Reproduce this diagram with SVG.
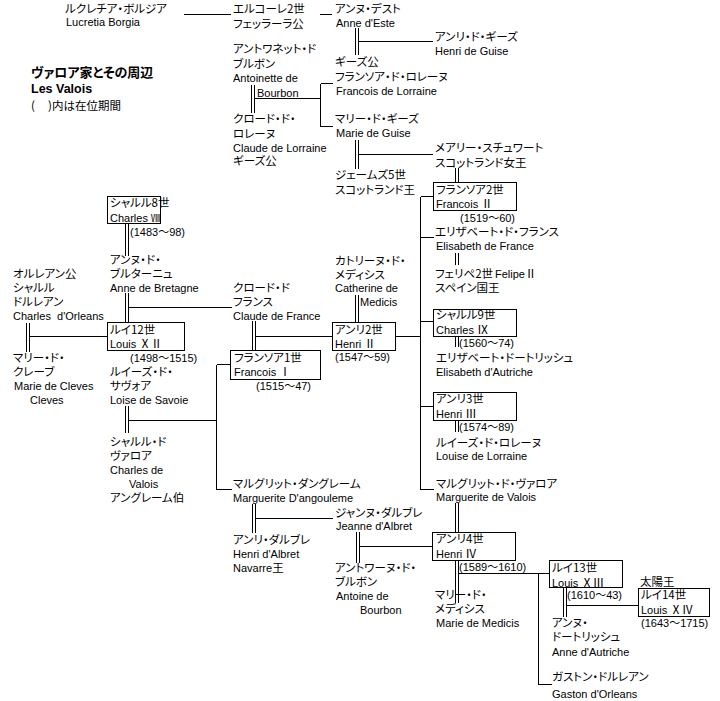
<svg xmlns="http://www.w3.org/2000/svg" width="720" height="701" viewBox="0 0 720 701">
<style>
.j{font-family:"Noto Sans CJK JP",sans-serif;font-size:11.5px;font-feature-settings:"palt";fill:#000}
.e{font-family:"Liberation Sans","Noto Sans CJK JP",sans-serif;font-size:11px;fill:#000}
.r{font-family:"Noto Sans CJK JP",sans-serif;font-size:11.5px}
.t{font-family:"Noto Sans CJK JP",sans-serif;font-size:13px;font-weight:bold;font-feature-settings:"palt"}
.tb{font-family:"Liberation Sans",sans-serif;font-size:12.5px;font-weight:bold}
.box{fill:#fff;stroke:#000;stroke-width:1}
.c line{stroke:#000;stroke-width:1}
</style>
<rect width="720" height="701" fill="#fff"/>
<g id="connectors" class="c" shape-rendering="crispEdges">
<line x1="184" y1="14.5" x2="231" y2="14.5"/>
<line x1="320" y1="14.5" x2="332" y2="14.5"/>
<line x1="355.5" y1="28" x2="355.5" y2="55"/><line x1="358.5" y1="28" x2="358.5" y2="55"/>
<line x1="358.5" y1="41.5" x2="433" y2="41.5"/>
<line x1="251.5" y1="85" x2="251.5" y2="113"/><line x1="254.5" y1="85" x2="254.5" y2="113"/>
<line x1="254.5" y1="98.5" x2="320.5" y2="98.5"/>
<line x1="320.5" y1="83.5" x2="320.5" y2="126.5"/>
<line x1="320.5" y1="83.5" x2="333" y2="83.5"/><line x1="320.5" y1="126.5" x2="333" y2="126.5"/>
<line x1="355.5" y1="140" x2="355.5" y2="169"/><line x1="358.5" y1="140" x2="358.5" y2="169"/>
<line x1="358.5" y1="154.5" x2="433" y2="154.5"/>
<line x1="455.5" y1="168" x2="455.5" y2="182.5"/><line x1="458.5" y1="168" x2="458.5" y2="182.5"/>
<line x1="420.5" y1="196.5" x2="420.5" y2="489.5"/>
<line x1="420.5" y1="196.5" x2="433.5" y2="196.5"/>
<line x1="420.5" y1="237.5" x2="433.5" y2="237.5"/>
<line x1="420.5" y1="321.5" x2="433.5" y2="321.5"/>
<line x1="420.5" y1="406.5" x2="433.5" y2="406.5"/>
<line x1="420.5" y1="489.5" x2="433.5" y2="489.5"/>
<line x1="395.5" y1="336.5" x2="420.5" y2="336.5"/>
<line x1="455.5" y1="253" x2="455.5" y2="265"/><line x1="458.5" y1="253" x2="458.5" y2="265"/>
<line x1="355.5" y1="295" x2="355.5" y2="322.5"/><line x1="358.5" y1="295" x2="358.5" y2="322.5"/>
<line x1="252.5" y1="321" x2="252.5" y2="350.5"/><line x1="255.5" y1="321" x2="255.5" y2="350.5"/>
<line x1="255.5" y1="336.5" x2="332.5" y2="336.5"/>
<line x1="216.5" y1="364.5" x2="216.5" y2="489.5"/>
<line x1="216.5" y1="364.5" x2="230.5" y2="364.5"/>
<line x1="216.5" y1="489.5" x2="232" y2="489.5"/>
<line x1="125.5" y1="406" x2="125.5" y2="433"/><line x1="128.5" y1="406" x2="128.5" y2="433"/>
<line x1="128.5" y1="420.5" x2="216.5" y2="420.5"/>
<line x1="125.5" y1="223.5" x2="125.5" y2="256"/><line x1="128.5" y1="223.5" x2="128.5" y2="256"/>
<line x1="125.5" y1="293" x2="125.5" y2="322.5"/><line x1="128.5" y1="293" x2="128.5" y2="322.5"/>
<line x1="128.5" y1="307.5" x2="232" y2="307.5"/>
<line x1="26.5" y1="322.5" x2="26.5" y2="351.5"/><line x1="29.5" y1="322.5" x2="29.5" y2="351.5"/>
<line x1="29.5" y1="336.5" x2="107.5" y2="336.5"/>
<line x1="455.5" y1="336.5" x2="455.5" y2="347"/><line x1="458.5" y1="336.5" x2="458.5" y2="347"/>
<line x1="455.5" y1="420.5" x2="455.5" y2="432"/><line x1="458.5" y1="420.5" x2="458.5" y2="432"/>
<line x1="455.5" y1="503" x2="455.5" y2="532.5"/><line x1="458.5" y1="503" x2="458.5" y2="532.5"/>
<line x1="455.5" y1="560.5" x2="455.5" y2="603"/><line x1="458.5" y1="560.5" x2="458.5" y2="603"/>
<line x1="458.5" y1="573.5" x2="538.5" y2="573.5"/>
<line x1="538.5" y1="573.5" x2="538.5" y2="684.5"/>
<line x1="538.5" y1="573.5" x2="549.5" y2="573.5"/>
<line x1="538.5" y1="684.5" x2="552" y2="684.5"/>
<line x1="563.5" y1="587.5" x2="563.5" y2="617"/><line x1="566.5" y1="587.5" x2="566.5" y2="617"/>
<line x1="566.5" y1="605.5" x2="638.5" y2="605.5"/>
<line x1="252.5" y1="504" x2="252.5" y2="532.5"/><line x1="255.5" y1="504" x2="255.5" y2="532.5"/>
<line x1="255.5" y1="518.5" x2="333" y2="518.5"/>
<line x1="356.5" y1="532" x2="356.5" y2="563"/><line x1="359.5" y1="532" x2="359.5" y2="563"/>
<line x1="359.5" y1="546.5" x2="432.5" y2="546.5"/>
</g>
<g id="title">
<text class="t" x="31" y="77">ヴァロア家とその周辺</text>
<text class="tb" x="31" y="92.7">Les Valois</text>
<text class="j" x="31" y="110">(<tspan x="48">)内は在位期間</tspan></text>
</g>
<g id="lucretia"><text class="j" x="65" y="13">ルクレチア・ボルジア</text><text class="e" x="66" y="26">Lucretia Borgia</text></g>
<g id="ercole"><text class="j" x="233" y="13">エルコーレ2世</text><text class="j" x="233" y="28">フェッラーラ公</text></g>
<g id="anne-este"><text class="j" x="335" y="13">アンヌ・デスト</text><text class="e" x="336" y="26.7">Anne d'Este</text></g>
<g id="henri-guise"><text class="j" x="435" y="41">アンリ・ド・ギーズ</text><text class="e" x="435" y="55">Henri de Guise</text></g>
<g id="antoinette"><text class="j" x="233" y="53">アントワネット・ド</text><text class="j" x="233" y="68">ブルボン</text><text class="e" x="233" y="81.7">Antoinette de</text><text class="e" x="257" y="96.7">Bourbon</text></g>
<g id="francois-lorraine"><text class="j" x="335" y="66">ギーズ公</text><text class="j" x="335" y="81">フランソア・ド・ロレーヌ</text><text class="e" x="336" y="95.3">Francois de Lorraine</text></g>
<g id="marie-guise"><text class="j" x="335" y="122.5">マリー・ド・ギーズ</text><text class="e" x="336" y="136.7">Marie de Guise</text></g>
<g id="claude-lorraine"><text class="j" x="233" y="122.5">クロード・ド・</text><text class="j" x="233" y="137.5">ロレーヌ</text><text class="e" x="233" y="151.7">Claude de Lorraine</text><text class="j" x="233" y="164.5">ギーズ公</text></g>
<g id="mary-stuart"><text class="j" x="435" y="151.5">メアリー・スチュワート</text><text class="j" x="435" y="166.5">スコットランド女王</text></g>
<g id="james5"><text class="j" x="335" y="178.5">ジェームズ5世</text><text class="j" x="335" y="193.5">スコットランド王</text></g>
<g id="francois2"><rect class="box" x="433.5" y="182.5" width="83" height="28"/><text class="j" x="436" y="194">フランソア2世</text><text class="e" x="436" y="207.5">Francois <tspan class="r">Ⅱ</tspan></text><text class="e" x="460" y="221.5">(1519～60)</text></g>
<g id="elisabeth-france"><text class="j" x="435" y="235.7">エリザベート・ド・フランス</text><text class="e" x="436" y="249.7">Elisabeth de France</text></g>
<g id="felipe2"><text class="j" x="435" y="278">フェリペ2世</text><text class="e" x="495" y="278">Felipe<tspan class="r">Ⅱ</tspan></text><text class="j" x="435" y="292.3">スペイン国王</text></g>
<g id="catherine"><text class="j" x="335" y="265">カトリーヌ・ド・</text><text class="j" x="335" y="278.5">メディシス</text><text class="e" x="335" y="292.3">Catherine de</text><text class="e" x="360" y="306.3">Medicis</text></g>
<g id="charles8"><rect class="box" x="107.5" y="196.5" width="53" height="27"/><text class="j" x="110" y="207.3">シャルル8世</text><text class="e" x="110" y="221.7">Charles <tspan class="r" style="font-size:10px">Ⅷ</tspan></text><text class="e" x="130" y="235.7">(1483～98)</text></g>
<g id="anne-bretagne"><text class="j" x="110" y="264">アンヌ・ド・</text><text class="j" x="110" y="278.3">ブルターニュ</text><text class="e" x="110" y="292.3">Anne de Bretagne</text></g>
<g id="charles-orleans"><text class="j" x="13" y="278.3">オルレアン公</text><text class="j" x="13" y="292.3">シャルル</text><text class="j" x="13" y="305.7">ドルレアン</text><text class="e" x="13" y="320">Charles&#160; d'Orleans</text></g>
<g id="louis12"><rect class="box" x="107.5" y="322.5" width="77" height="28"/><text class="j" x="110" y="334">ルイ12世</text><text class="e" x="110" y="348.3">Louis <tspan class="r">ⅩⅡ</tspan></text><text class="e" x="130" y="362.3">(1498～1515)</text></g>
<g id="marie-cleves"><text class="j" x="13" y="362.3">マリー・ド・</text><text class="j" x="13" y="375.7">クレーブ</text><text class="e" x="14" y="389.7">Marie de Cleves</text><text class="e" x="30" y="404">Cleves</text></g>
<g id="louise-savoie"><text class="j" x="110" y="375.7">ルイーズ・ド・</text><text class="j" x="110" y="389.7">サヴォア</text><text class="e" x="110" y="404">Loise de Savoie</text></g>
<g id="claude-france"><text class="j" x="233" y="292.3">クロード・ド</text><text class="j" x="233" y="306.3">フランス</text><text class="e" x="233" y="320">Claude de France</text></g>
<g id="francois1"><rect class="box" x="230.5" y="350.5" width="90" height="29"/><text class="j" x="234" y="362.3">フランソア1世</text><text class="e" x="234" y="375.7">Francois  <tspan class="r">Ⅰ</tspan></text><text class="e" x="256" y="389.7">(1515～47)</text></g>
<g id="henri2"><rect class="box" x="332.5" y="322.5" width="63" height="28"/><text class="j" x="335" y="334">アンリ2世</text><text class="e" x="335" y="348.3">Henri <tspan class="r">Ⅱ</tspan></text><text class="e" x="335" y="360.7">(1547～59)</text></g>
<g id="charles9"><rect class="box" x="433.5" y="309.5" width="83" height="27"/><text class="j" x="436" y="319">シャルル9世</text><text class="e" x="436" y="334">Charles <tspan class="r">Ⅸ</tspan></text><text class="e" x="459" y="347.3">(1560～74)</text></g>
<g id="elisabeth-autriche"><text class="j" x="436" y="362.3">エリザベート・ドートリッシュ</text><text class="e" x="436" y="375.7">Elisabeth d'Autriche</text></g>
<g id="henri3"><rect class="box" x="433.5" y="392.5" width="83" height="28"/><text class="j" x="436" y="403.3">アンリ3世</text><text class="e" x="436" y="418">Henri <tspan class="r">Ⅲ</tspan></text><text class="e" x="459" y="431.3">(1574～89)</text></g>
<g id="louise-lorraine"><text class="j" x="436" y="446.7">ルイーズ・ド・ロレーヌ</text><text class="e" x="436" y="460">Louise de Lorraine</text></g>
<g id="marguerite-valois"><text class="j" x="436" y="488">マルグリット・ド・ヴァロア</text><text class="e" x="436" y="501.3">Marguerite de Valois</text></g>
<g id="charles-valois"><text class="j" x="110" y="445.7">シャルル・ド</text><text class="j" x="110" y="460">ヴァロア</text><text class="e" x="110" y="474">Charles de</text><text class="e" x="129" y="488">Valois</text><text class="j" x="110" y="502.3">アングレーム伯</text></g>
<g id="marguerite-angouleme"><text class="j" x="233" y="488">マルグリット・ダングレーム</text><text class="e" x="233" y="502.3">Marguerite D'angouleme</text></g>
<g id="henri-albret"><text class="j" x="233" y="544">アンリ・ダルブレ</text><text class="e" x="233" y="558">Henri d'Albret</text><text class="e" x="233" y="572.3">Navarre<tspan class="r">王</tspan></text></g>
<g id="jeanne-albret"><text class="j" x="335" y="516.7">ジャンヌ・ダルブレ</text><text class="e" x="336" y="529.7">Jeanne d'Albret</text></g>
<g id="henri4"><rect class="box" x="432.5" y="532.5" width="83" height="28"/><text class="j" x="436" y="543.3">アンリ4世</text><text class="e" x="436" y="558">Henri <tspan class="r">Ⅳ</tspan></text><text class="e" x="459" y="571.3">(1589～1610)</text></g>
<g id="antoine-bourbon"><text class="j" x="335" y="572.3">アントワーヌ・ド・</text><text class="j" x="335" y="585.7">ブルボン</text><text class="e" x="336" y="600">Antoine de</text><text class="e" x="360" y="614">Bourbon</text></g>
<g id="marie-medicis"><text class="j" x="435" y="599">マリー・ド・</text><text class="j" x="435" y="613.3">メディシス</text><text class="e" x="436" y="627.3">Marie de Medicis</text></g>
<g id="louis13"><rect class="box" x="549.5" y="560.5" width="73" height="27"/><text class="j" x="552" y="572.3">ルイ13世</text><text class="e" x="552" y="586.7">Louis <tspan class="r">ⅩⅢ</tspan></text><text class="e" x="567" y="599">(1610～43)</text></g>
<g id="louis14"><text class="j" x="640" y="586.3">太陽王</text><rect class="box" x="638.5" y="588.5" width="71" height="28"/><text class="j" x="641" y="599">ルイ14世</text><text class="e" x="641" y="614">Louis <tspan class="r">ⅩⅣ</tspan></text><text class="e" x="641" y="627.3">(1643～1715)</text></g>
<g id="anne-autriche"><text class="j" x="552" y="626.7">アンヌ・</text><text class="j" x="552" y="641.3">ドートリッシュ</text><text class="e" x="552" y="655.7">Anne d'Autriche</text></g>
<g id="gaston"><text class="j" x="552" y="681.3">ガストン・ドルレアン</text><text class="e" x="552" y="698">Gaston d'Orleans</text></g>
</svg>
